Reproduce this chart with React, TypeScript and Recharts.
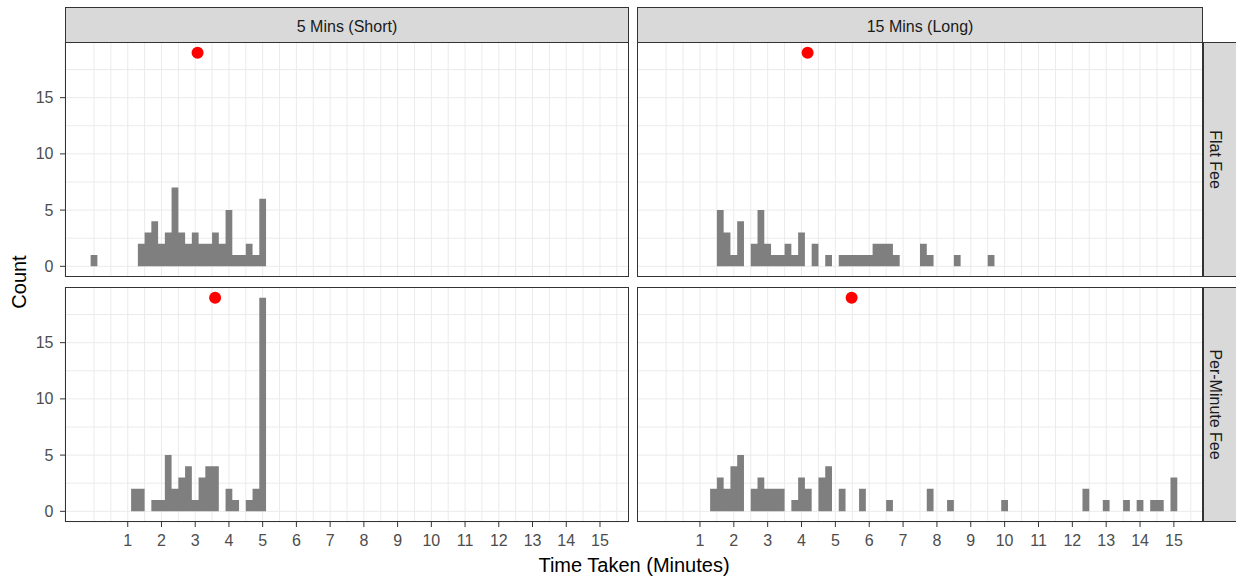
import React from 'react';
import { ComposedChart, Area, Scatter, XAxis, YAxis, CartesianGrid } from 'recharts';

// ---- Data (bin centres in minutes, bin width 0.2) ----
const flatShortBins = [0, 1.4, 1.6, 1.8, 2.0, 2.2, 2.4, 2.6, 2.8, 3.0, 3.2, 3.4, 3.6, 3.8, 4.0, 4.2, 4.4, 4.6, 4.8, 5.0];
const flatShortCounts = [1, 2, 3, 4, 2, 3, 7, 3, 2, 3, 2, 2, 3, 2, 5, 1, 1, 2, 1, 6];

const flatLongBins = [1.6, 1.8, 2.0, 2.2, 2.6, 2.8, 3.0, 3.2, 3.4, 3.6, 3.8, 4.0, 4.4, 4.8, 5.2, 5.4, 5.6, 5.8, 6.0, 6.2, 6.4, 6.6, 6.8, 7.6, 7.8, 8.6, 9.6];
const flatLongCounts = [5, 3, 1, 4, 2, 5, 2, 1, 1, 2, 1, 3, 2, 1, 1, 1, 1, 1, 1, 2, 2, 2, 1, 2, 1, 1, 1];

const perMinShortBins = [1.2, 1.4, 1.8, 2.0, 2.2, 2.4, 2.6, 2.8, 3.0, 3.2, 3.4, 3.6, 4.0, 4.2, 4.6, 4.8, 5.0];
const perMinShortCounts = [2, 2, 1, 1, 5, 2, 3, 4, 1, 3, 4, 4, 2, 1, 1, 2, 19];

const perMinLongBins = [1.4, 1.6, 1.8, 2.0, 2.2, 2.6, 2.8, 3.0, 3.2, 3.4, 3.8, 4.0, 4.2, 4.6, 4.8, 5.2, 5.8, 6.6, 7.8, 8.4, 10.0, 12.4, 13.0, 13.6, 14.0, 14.4, 14.6, 15.0];
const perMinLongCounts = [2, 3, 2, 4, 5, 2, 3, 2, 2, 2, 1, 3, 2, 3, 4, 2, 2, 1, 2, 1, 1, 2, 1, 1, 1, 1, 1, 3];

// mean time (red point), drawn at the maximum count
const meanTimes = { flatShort: 3.07, flatLong: 4.18, perMinShort: 3.59, perMinLong: 5.48 };
const meanMarkerCount = 19;

const colLabels = ['5 Mins (Short)', '15 Mins (Long)'];
const rowLabels = ['Flat Fee', 'Per-Minute Fee'];
const xBreaks = [1, 2, 3, 4, 5, 6, 7, 8, 9, 10, 11, 12, 13, 14, 15];
const yBreaks = [0, 5, 10, 15];
const binWidth = 0.2;
const maxBin = 15.0;

// ---- helpers ----
const xGridTicks: number[] = [];
for (let i = 0; i <= 31; i++) xGridTicks.push(i * 0.5);
const yGridTicks = [0, 2.5, 5, 7.5, 10, 12.5, 15, 17.5];

function buildSteps(bins: number[], counts: number[]) {
  const lookup: Record<number, number> = {};
  bins.forEach((b, i) => { lookup[Math.round(b * 10)] = counts[i]; });
  const out: { x: number; count: number }[] = [];
  const n = Math.round(maxBin / binWidth);
  for (let k = 0; k <= n; k++) {
    const c = k * binWidth;
    const key = Math.round(c * 10);
    out.push({ x: +(c - binWidth / 2).toFixed(2), count: lookup[key] || 0 });
  }
  out.push({ x: +(maxBin + binWidth / 2).toFixed(2), count: 0 });
  return out;
}

const FONT = '"Liberation Sans", Arial, Helvetica, sans-serif';
const X_DOMAIN: [number, number] = [-0.86, 15.86];
const Y_DOMAIN: [number, number] = [-0.95, 19.95];

const makeXTick = (show: boolean) => (props: any) => {
  const { x, y, payload } = props;
  const v = payload && payload.value;
  if (!show || !xBreaks.includes(v)) return <g />;
  return (
    <g>
      <line x1={x} x2={x} y1={y} y2={y + 5} stroke="#333333" strokeWidth={1} />
      <text x={x} y={y + 24} textAnchor="middle" fill="#4D4D4D" fontSize={16} fontFamily={FONT}>{v}</text>
    </g>
  );
};

const makeYTick = (show: boolean) => (props: any) => {
  const { x, y, payload } = props;
  const v = payload && payload.value;
  if (!show || !yBreaks.includes(v)) return <g />;
  return (
    <g>
      <line x1={x - 5} x2={x} y1={y} y2={y} stroke="#333333" strokeWidth={1} />
      <text x={x - 11.5} y={y} dy="0.35em" textAnchor="end" fill="#4D4D4D" fontSize={16} fontFamily={FONT}>{v}</text>
    </g>
  );
};

// layout
const PANEL_H = 235;
const cols = [{ left: 65, width: 564 }, { left: 637, width: 566 }];
const rows = [{ top: 42 }, { top: 287 }];
const STRIP_TOP = 7;

type PanelProps = {
  bins: number[]; counts: number[]; mean: number; col: number; row: number;
};

function Panel({ bins, counts, mean, col, row }: PanelProps) {
  const steps = buildSteps(bins, counts);
  const yAxisW = col === 0 ? 65 : 0;
  const xAxisH = row === 1 ? 57 : 0;
  const c = cols[col];
  const r = rows[row];
  return (
    <div style={{ position: 'absolute', left: c.left - yAxisW, top: r.top }}>
      <ComposedChart
        width={c.width + yAxisW}
        height={PANEL_H + xAxisH}
        data={steps}
        margin={{ top: 0, right: 0, bottom: 0, left: 0 }}
      >
        <CartesianGrid stroke="#EBEBEB" strokeWidth={1} vertical horizontal />
        <XAxis
          type="number"
          dataKey="x"
          domain={X_DOMAIN}
          allowDataOverflow
          ticks={xGridTicks}
          interval={0}
          axisLine={false}
          tickLine={false}
          tickSize={0}
          tickMargin={0}
          height={xAxisH}
          tick={makeXTick(row === 1)}
        />
        <YAxis
          type="number"
          dataKey="count"
          domain={Y_DOMAIN}
          allowDataOverflow
          ticks={yGridTicks}
          interval={0}
          axisLine={false}
          tickLine={false}
          tickSize={0}
          tickMargin={0}
          width={yAxisW}
          tick={makeYTick(col === 0)}
        />
        <Area
          type="stepAfter"
          dataKey="count"
          stroke="none"
          fill="#7F7F7F"
          fillOpacity={1}
          baseValue={0}
          isAnimationActive={false}
          dot={false}
          activeDot={false}
        />
        <Scatter
          data={[{ x: mean, count: meanMarkerCount }]}
          dataKey="count"
          isAnimationActive={false}
          shape={(p: any) => <circle cx={p.cx} cy={p.cy} r={6} fill="#FF0000" />}
        />
      </ComposedChart>
    </div>
  );
}

export default function App() {
  const panels = [
    { bins: flatShortBins, counts: flatShortCounts, mean: meanTimes.flatShort, col: 0, row: 0 },
    { bins: flatLongBins, counts: flatLongCounts, mean: meanTimes.flatLong, col: 1, row: 0 },
    { bins: perMinShortBins, counts: perMinShortCounts, mean: meanTimes.perMinShort, col: 0, row: 1 },
    { bins: perMinLongBins, counts: perMinLongCounts, mean: meanTimes.perMinLong, col: 1, row: 1 },
  ];
  const stripRight = cols[1].left + cols[1].width;
  return (
    <div style={{ position: 'absolute', left: 0, top: 0, width: 1236, height: 579, overflow: 'hidden', background: '#FFFFFF', fontFamily: FONT }}>
      {panels.map((p, i) => <Panel key={i} {...p} />)}
      <svg width={1236} height={579} style={{ position: 'absolute', left: 0, top: 0, pointerEvents: 'none' }}>
        {/* panel borders */}
        {rows.map((r, ri) => cols.map((c, ci) => (
          <rect key={`b${ri}${ci}`} x={c.left + 0.5} y={r.top + 0.5} width={c.width - 1} height={PANEL_H - 1} fill="none" stroke="#333333" strokeWidth={1} />
        )))}
        {/* top strips */}
        {cols.map((c, ci) => (
          <g key={`s${ci}`}>
            <rect x={c.left + 0.5} y={STRIP_TOP + 0.5} width={c.width - 1} height={rows[0].top - STRIP_TOP} fill="#D9D9D9" stroke="#333333" strokeWidth={1} />
            <text x={c.left + c.width / 2} y={(STRIP_TOP + rows[0].top) / 2 + 1.5} dy="0.35em" textAnchor="middle" fill="#1A1A1A" fontSize={16} fontFamily={FONT}>{colLabels[ci]}</text>
          </g>
        ))}
        {/* right strips */}
        {rows.map((r, ri) => (
          <g key={`r${ri}`}>
            <rect x={stripRight + 0.5} y={r.top + 0.5} width={40} height={PANEL_H - 1} fill="#D9D9D9" stroke="#333333" strokeWidth={1} />
            <text transform={`translate(${stripRight + 13}, ${r.top + PANEL_H / 2}) rotate(90)`} dy="0.35em" textAnchor="middle" fill="#1A1A1A" fontSize={16} fontFamily={FONT}>{rowLabels[ri]}</text>
          </g>
        ))}
        {/* axis titles */}
        <text x={(cols[0].left + stripRight) / 2} y={572} textAnchor="middle" fill="#000000" fontSize={20} fontFamily={FONT}>Time Taken (Minutes)</text>
        <text transform={`translate(19, ${(rows[0].top + rows[1].top + PANEL_H) / 2}) rotate(-90)`} dy="0.35em" textAnchor="middle" fill="#000000" fontSize={20} fontFamily={FONT}>Count</text>
      </svg>
    </div>
  );
}
